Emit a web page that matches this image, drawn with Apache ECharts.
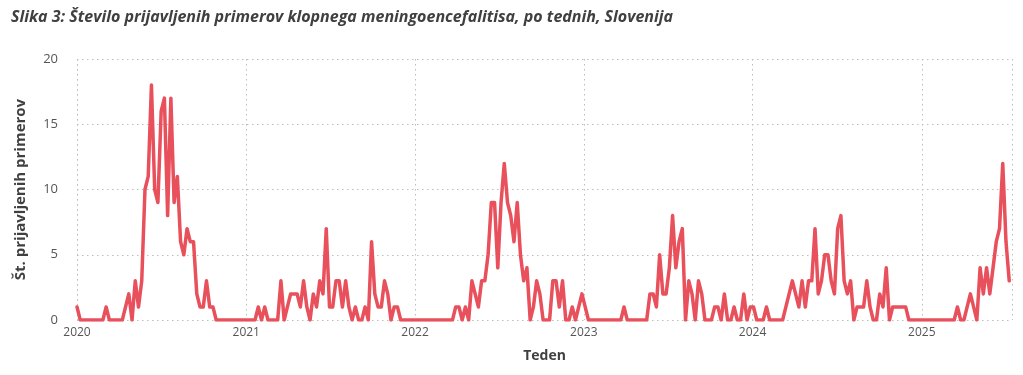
<!DOCTYPE html>
<html>
<head>
<meta charset="utf-8">
<script src="https://cdn.jsdelivr.net/npm/echarts@6/dist/echarts.min.js"></script>
<style>
html,body{margin:0;padding:0;background:#fff;}
#c{width:1023px;height:375px;}
</style>
</head>
<body>
<div id="c"></div>
<script>
// Weekly counts, first week starting 2020-01-01
const y2020 = [1,0,0,0,0,0,0,0,0,1, 0,0,0,0,0,1,2,0,3,1, 3,10,11,18,10,9,16,17,8,17, 9,11,6,5,7,6,6,2,1,1, 3,1,1,0,0,0,0,0,0,0, 0,0,0];
const y2021 = [0,0,0,1,0,1,0,0,0,0, 3,0,1,2,2,2,1,3,1,0, 2,1,3,2,7,1,1,3,3,1, 3,1,0,1,0,0,1,0,6,2, 1,1,3,2,0,1,1,0,0,0, 0,0];
const y2022 = [0,0,0,0,0,0,0,0,0,0, 0,0,1,1,0,1,0,3,2,1, 3,3,5,9,9,4,9,12,9,8, 6,9,5,3,4,0,1,3,2,0, 0,0,3,3,1,3,0,0,1,0, 1,2];
const y2023 = [1,0,0,0,0,0,0,0,0,0, 0,0,1,0,0,0,0,0,0,0, 2,2,1,5,2,2,4,8,4,6, 7,0,3,2,0,3,2,0,0,0, 1,1,0,2,0,0,1,0,0,2, 0,1];
const y2024 = [1,0,0,0,1,0,0,0,0,0, 1,2,3,2,1,3,1,3,3,7, 2,3,5,5,3,2,7,8,3,2, 3,0,1,1,1,3,1,0,0,2, 1,4,0,1,1,1,1,1,0,0, 0,0];
const y2025 = [0,0,0,0,0,0,0,0,0,0, 0,1,0,0,1,2,1,0,4,2, 4,2,4,6,7,12,6,3];
const yTicks = [0, 5, 10, 15, 20];

const values = [].concat(y2020, y2021, y2022, y2023, y2024, y2025);
const DAY = 86400000;
const start = Date.UTC(2020, 0, 1);
const seriesData = values.map((v, i) => [start + i * 7 * DAY, v]);

const chart = echarts.init(document.getElementById('c'));
const font = "'Open Sans', 'Noto Sans', sans-serif";
const gridLine = { show: true, lineStyle: { type: [1.5, 3.5], color: '#bdbdbd', width: 1 } };
chart.setOption({
  animation: false,
  backgroundColor: '#fff',
  textStyle: { fontFamily: font },
  title: {
    text: 'Slika 3: Število prijavljenih primerov klopnega meningoencefalitisa, po tednih, Slovenija',
    left: 6, top: 4,
    textStyle: { fontFamily: font, fontSize: 16, fontWeight: 'bold', fontStyle: 'italic', color: '#404040' }
  },
  grid: { left: 77, right: 11, top: 59, bottom: 55 },
  xAxis: {
    type: 'time',
    min: start,
    max: Date.UTC(2025, 6, 15),
    minInterval: 365 * DAY,
    maxInterval: 366 * DAY,
    name: 'Teden',
    nameLocation: 'middle',
    nameGap: 29,
    nameTextStyle: { fontFamily: font, fontSize: 14, fontWeight: 'bold', color: '#404040' },
    axisLine: { show: false },
    axisTick: { show: false },
    splitLine: gridLine,
    axisLabel: {
      margin: 7,
      color: '#555',
      fontSize: 12,
      fontFamily: font,
      formatter: function (v) {
        const d = new Date(v);
        if (d.getUTCMonth() === 0 && d.getUTCDate() === 1) return String(d.getUTCFullYear());
        return '';
      }
    }
  },
  yAxis: {
    type: 'value',
    min: yTicks[0],
    max: yTicks[yTicks.length - 1],
    interval: 5,
    name: 'Št. prijavljenih primerov',
    nameLocation: 'middle',
    nameGap: 49,
    nameTextStyle: { fontFamily: font, fontSize: 15, fontWeight: 'bold', color: '#404040' },
    axisLine: { show: false },
    axisTick: { show: false },
    splitLine: gridLine,
    axisLabel: { margin: 19, color: '#555', fontSize: 13, fontFamily: font }
  },
  series: [{
    type: 'line',
    data: seriesData,
    symbol: 'none',
    lineStyle: { color: '#E8505B', width: 3.5, join: 'round', cap: 'round' },
    itemStyle: { color: '#E8505B' }
  }]
});
</script>
</body>
</html>
